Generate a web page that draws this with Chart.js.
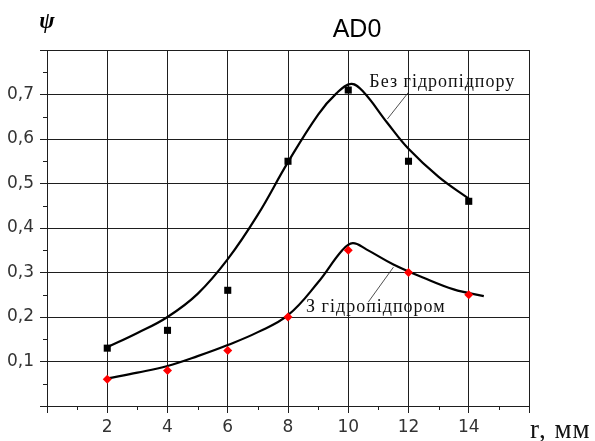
<!DOCTYPE html>
<html>
<head>
<meta charset="utf-8">
<script src="https://cdn.jsdelivr.net/npm/chart.js@4.4.1/dist/chart.umd.min.js"></script>
<style>
html,body{margin:0;padding:0;background:#fff;}
#wrap{width:595px;height:441px;position:relative;}
</style>
</head>
<body>
<div id="wrap"><canvas id="c" width="595" height="441"></canvas></div>
<script>
// ---- data ----
const titleText = "AD0";
const yAxisLabel = "\u03C8";
const xAxisLabel = "r, мм";
const seriesNames = ["Без гідропідпору", "З гідропідпором"];

const xValues = [2, 4, 6, 8, 10, 12, 14];
const bezPoints = [0.13, 0.17, 0.26, 0.55, 0.71, 0.55, 0.46];
const zPoints = [0.06, 0.08, 0.125, 0.20, 0.35, 0.30, 0.25];

// fitted curves
const bezCurveX = [2, 3, 4, 5, 6, 7, 8, 9, 9.6, 10.1, 10.5, 11.3, 12, 13, 14];
const bezCurveY = [0.132, 0.164, 0.200, 0.252, 0.330, 0.430, 0.548, 0.655, 0.702, 0.724, 0.706, 0.636, 0.578, 0.515, 0.466];
const zCurveX = [2, 3, 4, 5, 6, 7, 8, 9, 9.8, 10.15, 10.6, 11.5, 12.5, 13.5, 14.5];
const zCurveY = [0.062, 0.075, 0.090, 0.112, 0.137, 0.166, 0.204, 0.278, 0.350, 0.366, 0.352, 0.318, 0.288, 0.262, 0.247];

const xTicks = [2, 4, 6, 8, 10, 12, 14];
const yTicks = ["0,1", "0,2", "0,3", "0,4", "0,5", "0,6", "0,7"];

function pts(xs, ys) { return xs.map((x, i) => ({x: x, y: ys[i]})); }

const gridColor = '#1e1e1e';
const textColor = '#333';

const decor = {
  id: 'decor',
  afterDraw(chart) {
    const ctx = chart.ctx;
    const xs = chart.scales.x, ys = chart.scales.y;
    const ca = chart.chartArea;
    ctx.save();
    // minor ticks
    ctx.strokeStyle = gridColor;
    ctx.lineWidth = 1;
    ctx.beginPath();
    for (let v = 0.05; v < 0.8; v += 0.1) {
      const py = Math.round(ys.getPixelForValue(v)) + 0.5;
      ctx.moveTo(ca.left - 4, py); ctx.lineTo(ca.left, py);
    }
    for (let v = 1; v < 16; v += 2) {
      const px = Math.round(xs.getPixelForValue(v)) + 0.5;
      ctx.moveTo(px, ca.bottom); ctx.lineTo(px, ca.bottom + 4);
    }
    ctx.stroke();
    // leader lines
    ctx.strokeStyle = '#222';
    ctx.lineWidth = 0.8;
    ctx.beginPath();
    ctx.moveTo(xs.getPixelForValue(12.0), ys.getPixelForValue(0.705));
    ctx.lineTo(xs.getPixelForValue(11.3), ys.getPixelForValue(0.645));
    ctx.moveTo(xs.getPixelForValue(11.5), ys.getPixelForValue(0.312));
    ctx.lineTo(xs.getPixelForValue(10.67), ys.getPixelForValue(0.234));
    ctx.stroke();
    // annotations
    ctx.fillStyle = '#111';
    ctx.font = '18px "Liberation Serif", "Times New Roman", serif';
    ctx.letterSpacing = '1px';
    ctx.textBaseline = 'middle';
    ctx.textAlign = 'left';
    ctx.fillText(seriesNames[0], xs.getPixelForValue(10.7), ys.getPixelForValue(0.728));
    ctx.fillText(seriesNames[1], xs.getPixelForValue(8.6), ys.getPixelForValue(0.222));
    ctx.letterSpacing = '0px';
    // title
    ctx.font = '25px "Liberation Sans", Arial, sans-serif';
    ctx.textAlign = 'center';
    ctx.textBaseline = 'alphabetic';
    ctx.fillStyle = '#000';
    ctx.fillText(titleText, 357, 37);
    // psi
    ctx.font = 'italic bold 23px "Liberation Serif", serif';
    ctx.fillText(yAxisLabel, 47, 28);
    // x axis label
    ctx.font = '27px "Liberation Serif", serif';
    ctx.letterSpacing = '1px';
    ctx.textAlign = 'left';
    ctx.fillStyle = '#111';
    ctx.fillText(xAxisLabel, 530, 438);
    ctx.restore();
  }
};

new Chart(document.getElementById('c'), {
  type: 'scatter',
  data: {
    datasets: [
      {label: seriesNames[0] + ' pts', data: pts(xValues, bezPoints), pointStyle: 'rect', pointRadius: 5,
       backgroundColor: '#000', borderColor: '#000', borderWidth: 0, showLine: false, order: 0},
      {label: seriesNames[1] + ' pts', data: pts(xValues, zPoints), pointStyle: 'rectRot', pointRadius: 4.5,
       backgroundColor: '#ff0000', borderColor: '#ff0000', borderWidth: 0, showLine: false, order: 1},
      {label: seriesNames[0], data: pts(bezCurveX, bezCurveY), showLine: true, pointRadius: 0,
       borderColor: '#000', borderWidth: 2.2, tension: 0.4, order: 2},
      {label: seriesNames[1], data: pts(zCurveX, zCurveY), showLine: true, pointRadius: 0,
       borderColor: '#000', borderWidth: 2.2, tension: 0.4, order: 3}
    ]
  },
  options: {
    responsive: false,
    animation: false,
    devicePixelRatio: 1,
    layout: {padding: {top: 50, right: 66, left: 0, bottom: 0}},
    plugins: {legend: {display: false}, tooltip: {enabled: false}, title: {display: false}},
    scales: {
      x: {
        type: 'linear', min: 0, max: 16,
        afterFit(s) { s.height = 35; },
        ticks: {
          stepSize: 2, padding: 4, color: textColor,
          font: {family: '"DejaVu Sans", sans-serif', size: 17},
          callback: (v) => xTicks.includes(v) ? String(v) : ''
        },
        grid: {color: gridColor, lineWidth: 1, tickLength: 7, tickColor: gridColor},
        border: {display: true, color: gridColor, width: 1}
      },
      y: {
        type: 'linear', min: 0, max: 0.8,
        afterFit(s) { s.width = 47; },
        ticks: {
          stepSize: 0.1, padding: 6, color: textColor,
          font: {family: '"DejaVu Sans", sans-serif', size: 17},
          callback: (v, i) => (i >= 1 && i <= yTicks.length) ? yTicks[i - 1] : ''
        },
        grid: {color: gridColor, lineWidth: 1, tickLength: 7, tickColor: gridColor},
        border: {display: true, color: gridColor, width: 1}
      }
    }
  },
  plugins: [decor]
});
</script>
</body>
</html>
